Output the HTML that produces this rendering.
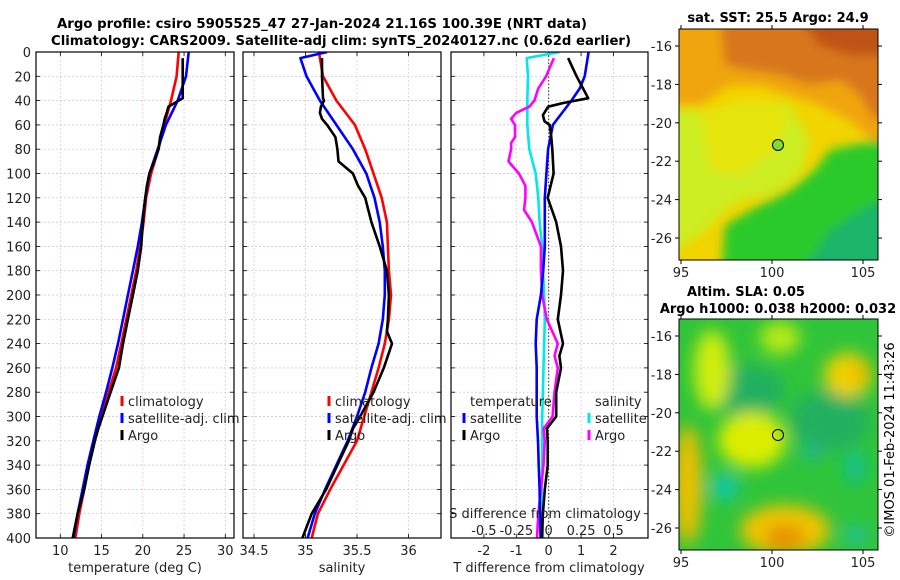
<!DOCTYPE html>
<html><head><meta charset="utf-8">
<style>
html,body{margin:0;padding:0;background:#fff;}
svg{display:block;font-family:"DejaVu Sans","Liberation Sans",sans-serif;}
</style></head>
<body>
<svg id="fig" width="900" height="580" viewBox="0 0 900 580" xmlns="http://www.w3.org/2000/svg">
<defs>
<filter id="bl1" x="-20%" y="-20%" width="140%" height="140%"><feGaussianBlur stdDeviation="5"/></filter>
<filter id="bl2" x="-50%" y="-50%" width="200%" height="200%"><feGaussianBlur stdDeviation="8"/></filter>
<clipPath id="cm1"><rect x="679" y="29" width="199" height="231"/></clipPath>
<clipPath id="cm2"><rect x="679" y="319" width="199" height="231"/></clipPath>
<clipPath id="cp1"><rect x="36" y="52" width="198" height="486"/></clipPath>
<clipPath id="cp2"><rect x="243" y="52" width="198" height="486"/></clipPath>
<clipPath id="cp3"><rect x="451" y="52" width="197" height="486"/></clipPath>
</defs>
<g font-weight="bold" font-size="13" text-anchor="middle">
<text x="322" y="28" textLength="530" lengthAdjust="spacingAndGlyphs">Argo profile: csiro 5905525_47 27-Jan-2024 21.16S 100.39E (NRT data)</text>
<text x="341" y="45" textLength="580" lengthAdjust="spacingAndGlyphs">Climatology: CARS2009. Satellite-adj clim: synTS_20240127.nc (0.62d earlier)</text>
</g>
<g id="panels"></g>
<!-- SST map -->
<g>
<text x="778" y="22" font-size="13" font-weight="bold" text-anchor="middle">sat. SST: 25.5 Argo: 24.9</text>
<g clip-path="url(#cm1)">
<rect x="679" y="29" width="199" height="231" fill="#f2d400"/>
<g filter="url(#bl1)">
<polygon points="660,10 900,10 900,150 870,140 850,120 820,105 790,95 760,85 730,85 700,105 660,105" fill="#f0a410"/>
<polygon points="720,20 900,20 900,115 875,120 860,95 840,80 810,85 780,75 750,70 725,65" fill="#d8761a"/>
<polygon points="800,20 900,20 900,55 850,55 820,45" fill="#bf5214"/>
<polygon points="660,112 700,110 730,115 760,100 790,105 810,140 800,175 770,195 740,200 720,215 700,235 660,260" fill="#ccee22"/>
<polygon points="700,112 740,100 770,100 790,115 775,150 740,175 710,170" fill="#e6e410"/>
<polygon points="720,290 725,225 760,205 790,190 815,170 830,150 900,135 900,290" fill="#2cca2a"/>
<polygon points="790,290 830,230 870,205 900,195 900,290" fill="#1ab468"/>
</g>
</g>
<rect x="679" y="29" width="199" height="231" fill="none" stroke="#000"/>
<circle cx="778" cy="145" r="5.5" fill="#7edc30" stroke="#000"/>
</g>
<!-- SLA map -->
<g>
<text x="746" y="296" font-size="13" font-weight="bold" text-anchor="middle">Altim. SLA: 0.05</text>
<text x="778" y="313" font-size="13" font-weight="bold" text-anchor="middle">Argo h1000: 0.038 h2000: 0.032</text>
<g clip-path="url(#cm2)">
<rect x="679" y="319" width="199" height="231" fill="#30c43a"/>
<g filter="url(#bl2)">
<ellipse cx="745" cy="390" rx="40" ry="25" fill="#20b060"/>
<ellipse cx="830" cy="420" rx="40" ry="30" fill="#20b060"/>
<ellipse cx="712" cy="370" rx="18" ry="40" fill="#d0ee10"/>
<ellipse cx="780" cy="338" rx="20" ry="16" fill="#b8ea18"/>
<ellipse cx="752" cy="440" rx="34" ry="28" fill="#dcee00"/>
<ellipse cx="848" cy="375" rx="24" ry="22" fill="#f0d200"/>
<ellipse cx="860" cy="372" rx="9" ry="9" fill="#f0b400"/>
<ellipse cx="688" cy="485" rx="14" ry="60" fill="#f0c000"/>
<ellipse cx="785" cy="530" rx="45" ry="25" fill="#f0c400"/>
<ellipse cx="785" cy="538" rx="20" ry="13" fill="#e89000"/>
<ellipse cx="725" cy="487" rx="14" ry="13" fill="#10c8a8"/>
<ellipse cx="855" cy="467" rx="10" ry="16" fill="#10c098"/>
<ellipse cx="812" cy="452" rx="12" ry="9" fill="#20b888"/>
<ellipse cx="856" cy="535" rx="12" ry="10" fill="#20c098"/>
</g>
</g>
<rect x="679" y="319" width="199" height="231" fill="none" stroke="#000"/>
<circle cx="778" cy="435" r="5.5" fill="none" stroke="#000"/>
</g>
<text transform="translate(894,440) rotate(-90)" font-size="13" text-anchor="middle">©IMOS 01-Feb-2024 11:43:26</text>
<g id="mapaxes"></g>
</svg>
<script>
// ---- data (depth in dbar) ----
const clim_depth = [0,20,40,60,80,100,120,140,160,180,200,220,240,260,280,300,320,340,360,380,400];
const clim_temp = [24.35,24.1,23.42,22.6,21.9,21.0,20.4,20.1,19.7,19.2,18.6,18.0,17.4,16.75,15.85,14.93,14.12,13.44,12.9,12.3,11.82];
const sat_temp  = [25.56,25.24,24.23,22.8,21.8,20.8,20.3,19.9,19.4,18.8,18.2,17.6,17.0,16.3,15.55,14.73,14.0,13.3,12.7,12.1,11.6];
const clim_sal  = [35.13,35.17,35.30,35.48,35.58,35.66,35.74,35.79,35.80,35.81,35.83,35.81,35.77,35.71,35.64,35.57,35.50,35.37,35.24,35.12,35.06];
const sat_sal_depth = [0,5,20,40,60,80,100,120,140,160,180,200,220,240,260,280,300,320,340,360,380,400];
const sat_sal   = [35.21,34.95,35.01,35.14,35.30,35.46,35.59,35.67,35.72,35.75,35.77,35.77,35.75,35.71,35.64,35.58,35.50,35.41,35.30,35.19,35.09,35.02];
const argo_depth = [5,20,38,40,45,50,55,60,70,80,90,100,110,120,140,160,180,200,220,230,240,260,280,300,310,320,340,360,380,400];
const argo_temp = [24.84,24.84,24.84,24.35,23.1,22.9,22.65,22.5,22.1,21.9,21.4,20.8,20.5,20.3,20.0,19.8,19.4,18.8,18.2,17.9,17.6,17.1,16.1,15.1,14.6,14.2,13.5,12.9,12.1,11.5];
const argo_sal  = [35.16,35.16,35.17,35.18,35.15,35.14,35.16,35.21,35.29,35.31,35.32,35.46,35.51,35.58,35.64,35.72,35.79,35.81,35.80,35.79,35.84,35.76,35.66,35.53,35.46,35.42,35.31,35.20,35.06,34.97];
// differences
const tsat_diff_depth = [0,20,30,40,60,80,100,120,140,160,180,200,220,240,260,280,300,320,340,360,380,400];
const tsat_diff = [1.23,1.11,0.96,0.70,0.13,-0.02,-0.07,-0.12,-0.12,-0.12,-0.17,-0.24,-0.37,-0.40,-0.37,-0.37,-0.37,-0.33,-0.31,-0.28,-0.27,-0.25];
const targo_diff_depth = [5,20,30,38,42,45,52,57,60,70,80,100,120,140,160,180,200,220,240,250,260,280,300,310,320,340,360,380,400];
const targo_diff = [0.60,0.86,1.06,1.22,0.45,-0.02,-0.18,-0.13,0.03,0.08,0.11,0.15,-0.03,0.23,0.38,0.44,0.38,0.28,0.44,0.33,0.38,0.23,0.23,-0.06,-0.03,-0.03,-0.12,-0.18,-0.21];
const ssat_diff_depth = [0,5,20,40,60,80,100,120,140,160,180,200,220,240,260,280,300,320,340,360,380,400];
const ssat_diff = [0.085,-0.17,-0.16,-0.165,-0.165,-0.15,-0.10,-0.08,-0.07,-0.05,-0.045,-0.035,-0.03,-0.035,-0.04,-0.045,-0.05,-0.05,-0.05,-0.055,-0.05,-0.045];
const sargo_diff_depth = [5,20,30,40,45,50,55,60,70,75,80,85,90,100,110,120,130,140,160,180,200,220,240,250,260,280,300,310,320,340,360,380,400];
const sargo_diff = [0.04,-0.02,-0.08,-0.11,-0.15,-0.25,-0.29,-0.26,-0.26,-0.29,-0.29,-0.30,-0.31,-0.23,-0.18,-0.18,-0.19,-0.13,-0.06,-0.06,-0.05,-0.015,0.07,0.045,0.07,0.045,0.03,-0.04,-0.03,-0.04,-0.06,-0.08,-0.09];
const depth_ticks = [0,20,40,60,80,100,120,140,160,180,200,220,240,260,280,300,320,340,360,380,400];
const temp_ticks = [10,15,20,25,30];
const sal_ticks = [34.5,35,35.5,36];
const tdiff_ticks = [-2,-1,0,1,2];
const sdiff_ticks = [-0.5,-0.25,0,0.25,0.5];
const lon_ticks = [95,100,105];
const lat_ticks = [-16,-18,-20,-22,-24,-26];

const NS = 'http://www.w3.org/2000/svg';
const root = document.getElementById('panels');
function mk(tag, attrs, parent){const e=document.createElementNS(NS,tag);for(const k in attrs)e.setAttribute(k,attrs[k]);(parent||root).appendChild(e);return e;}
const TOP=52, BOT=538;
const yD = d => TOP + d/400*(BOT-TOP);
const xT = t => 60.3 + (t-10)*8.25;
const xS = s => 254 + (s-34.5)*103;
const xTd = t => 548.7 + t*32.4;
const xSd = s => 548.7 + s*4*32.4;
const panels = [{x:36,w:198,clip:'cp1',name:'temperature-panel'},{x:243,w:198,clip:'cp2',name:'salinity-panel'},{x:451,w:197,clip:'cp3',name:'difference-panel'}];

function grid(p, xs){
  const g = mk('g',{});
  
  
  depth_ticks.forEach(d=>{ mk('line',{x1:p.x,x2:p.x+p.w,y1:yD(d),y2:yD(d),stroke:'#b8c4ec','stroke-width':0.7,'stroke-dasharray':'2,2'},g);
    mk('line',{x1:p.x,x2:p.x+4,y1:yD(d),y2:yD(d),stroke:'#000','stroke-width':0.8},g);
    mk('line',{x1:p.x+p.w-4,x2:p.x+p.w,y1:yD(d),y2:yD(d),stroke:'#000','stroke-width':0.8},g);});
  xs.forEach(x=>{ mk('line',{x1:x,x2:x,y1:TOP,y2:BOT,stroke:'#e8c0b8','stroke-width':0.7,'stroke-dasharray':'2,2'},g);
    mk('line',{x1:x,x2:x,y1:BOT-4,y2:BOT,stroke:'#000','stroke-width':0.8},g);
    mk('line',{x1:x,x2:x,y1:TOP,y2:TOP+4,stroke:'#000','stroke-width':0.8},g);});
}
grid(panels[0], temp_ticks.map(xT));
grid(panels[1], sal_ticks.map(xS));
grid(panels[2], tdiff_ticks.map(xTd));

function series(xs, ys, xf, color, clip, name, w){
  const pts = xs.map((v,i)=>xf(v).toFixed(1)+','+yD(ys[i]).toFixed(1)).join(' ');
  const pl = mk('polyline',{points:pts,fill:'none',stroke:color,'stroke-width':w||2.6,'stroke-linejoin':'round','clip-path':'url(#'+clip+')'});
  
  
}
const zl = mk('line',{x1:xTd(0),x2:xTd(0),y1:TOP,y2:BOT,stroke:'#333','stroke-width':1,'stroke-dasharray':'1.5,2'});



series(clim_temp, clim_depth, xT, '#ff0000', 'cp1', 'climatology-temperature-line');
series(sat_temp, clim_depth, xT, '#0000ff', 'cp1', 'satellite-temperature-line');
series(argo_temp, argo_depth, xT, '#000000', 'cp1', 'argo-temperature-line');
series(clim_sal, clim_depth, xS, '#ff0000', 'cp2', 'climatology-salinity-line');
series(sat_sal, sat_sal_depth, xS, '#0000ff', 'cp2', 'satellite-salinity-line');
series(argo_sal, argo_depth, xS, '#000000', 'cp2', 'argo-salinity-line');
series(ssat_diff, ssat_diff_depth, xSd, '#00e8e8', 'cp3', 'satellite-salinity-diff-line');
series(sargo_diff, sargo_diff_depth, xSd, '#ff00ff', 'cp3', 'argo-salinity-diff-line');
series(tsat_diff, tsat_diff_depth, xTd, '#0000ff', 'cp3', 'satellite-temperature-diff-line');
series(targo_diff, targo_diff_depth, xTd, '#000000', 'cp3', 'argo-temperature-diff-line');

panels.forEach(p=>{const r=mk('rect',{x:p.x,y:TOP,width:p.w,height:BOT-TOP,fill:'none',stroke:'#000','stroke-width':1.2});
  
  });

function txt(x,y,s,name,opts){const t=mk('text',Object.assign({x:x,y:y,'font-size':13,fill:'#222'},opts||{}));t.textContent=s;
  
  return t;}
depth_ticks.forEach(d=>txt(31,yD(d)+5,String(d),'depth-tick-label',{'text-anchor':'end'}));
temp_ticks.forEach(t=>txt(xT(t),555,String(t),'temperature-tick-label',{'text-anchor':'middle'}));
sal_ticks.forEach(s=>txt(xS(s),555,String(s),'salinity-tick-label',{'text-anchor':'middle'}));
tdiff_ticks.forEach(t=>txt(xTd(t),555,String(t),'tdiff-tick-label',{'text-anchor':'middle'}));
sdiff_ticks.forEach(s=>txt(xSd(s),535,String(s),'sdiff-tick-label',{'text-anchor':'middle'}));
txt(135,572,'temperature (deg C)','temperature-axis-title',{'text-anchor':'middle'});
txt(342,572,'salinity','salinity-axis-title',{'text-anchor':'middle'});
txt(549,572,'T difference from climatology','tdiff-axis-title',{'text-anchor':'middle'});
txt(545,518,'S difference from climatology','sdiff-axis-title',{'text-anchor':'middle'});

function legItem(x,y,color,label,name){
  const g=mk('g',{});
  
  
  mk('line',{x1:x,x2:x,y1:y-10,y2:y,stroke:color,'stroke-width':3},g);
  const t=mk('text',{x:x+6,y:y,'font-size':13,fill:'#222'},g);t.textContent=label;
}
legItem(122,406,'#ff0000','climatology','legend-climatology');
legItem(122,423,'#0000ff','satellite-adj. clim','legend-satellite-adj');
legItem(122,440,'#000000','Argo','legend-argo');
legItem(329,406,'#ff0000','climatology','legend-climatology-sal');
legItem(329,423,'#0000ff','satellite-adj. clim','legend-satellite-adj-sal');
legItem(329,440,'#000000','Argo','legend-argo-sal');
txt(470,406,'temperature','legend-temperature-heading');
legItem(464,423,'#0000ff','satellite','legend-temp-satellite');
legItem(464,440,'#000000','Argo','legend-temp-argo');
txt(595,406,'salinity','legend-salinity-heading');
legItem(589,423,'#00e8e8','satellite','legend-sal-satellite');
legItem(589,440,'#ff00ff','Argo','legend-sal-argo');

// map axes
const ma = document.getElementById('mapaxes');
const xLon = l => 681 + (l-95)*18.2;
[[29,46,260,275],[319,336,550,565]].forEach((m,mi)=>{
  lat_ticks.forEach((lat,i)=>{const y=m[1]+i*38.4;
    mk('line',{x1:679,x2:675,y1:y,y2:y,stroke:'#000'},ma);mk('line',{x1:878,x2:882,y1:y,y2:y,stroke:'#000'},ma);
    const t=mk('text',{x:672,y:y+5,'font-size':13,'text-anchor':'end',fill:'#222'},ma);t.textContent=String(lat);
    
    });
  lon_ticks.forEach(l=>{const x=xLon(l);
    mk('line',{x1:x,x2:x,y1:m[2],y2:m[2]+4,stroke:'#000'},ma);mk('line',{x1:x,x2:x,y1:m[0],y2:m[0]-4,stroke:'#000'},ma);
    const t=mk('text',{x:x,y:m[3]+2,'font-size':13,'text-anchor':'middle',fill:'#222'},ma);t.textContent=String(l);
    
    });
});
</script>
</body></html>
